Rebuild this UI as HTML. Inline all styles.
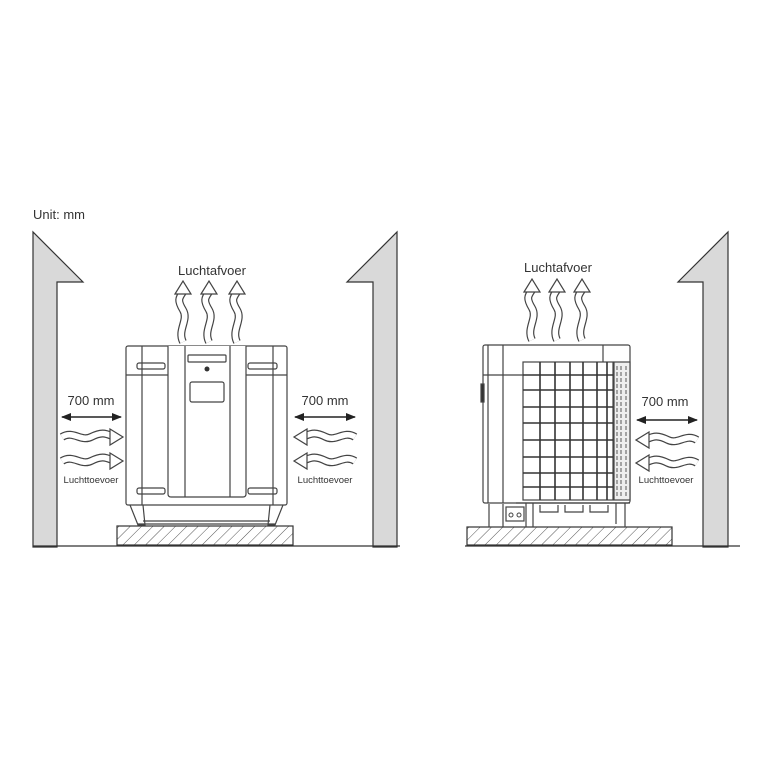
<!DOCTYPE html>
<html><head><meta charset="utf-8"><style>
html,body{margin:0;padding:0;background:#fff;}
svg{display:block;}
text{font-family:"Liberation Sans",sans-serif;fill:#333;}
</style></head><body>
<svg width="758" height="758" viewBox="0 0 758 758" xmlns="http://www.w3.org/2000/svg">
<defs>
<pattern id="hatch" width="8" height="8" patternUnits="userSpaceOnUse" patternTransform="rotate(45)">
<rect width="8" height="8" fill="#fff"/><line x1="0" y1="0" x2="0" y2="8" stroke="#555" stroke-width="1"/>
</pattern>
<g id="wr">
<path d="M1,0 C12,-7 20,5 30,0 S44,-4 51,-1" fill="none" stroke="#444" stroke-width="8"/>
<path d="M1,0 C12,-7 20,5 30,0 S44,-4 51,-1" fill="none" stroke="#fff" stroke-width="5.6"/>
<path d="M49,-8 L62,0 L49,8 Z" fill="#fff" stroke="#444" stroke-width="1.2"/>
</g>
<g id="wu">
<path d="M0,0 C-6,-12 6,-22 0,-32 S-4,-44 0,-50" fill="none" stroke="#444" stroke-width="8"/>
<path d="M0,0 C-6,-12 6,-22 0,-32 S-4,-44 0,-50" fill="none" stroke="#fff" stroke-width="5.6"/>
<path d="M-8,-48 L0,-61 L8,-48 Z" fill="#fff" stroke="#444" stroke-width="1.2"/>
</g>
<marker id="ah" markerWidth="10" markerHeight="8" refX="9" refY="4" orient="auto-start-reverse" markerUnits="userSpaceOnUse">
<path d="M0,0 L10,4 L0,8 Z" fill="#222"/></marker>
</defs>

<text x="33" y="219" font-size="13">Unit: mm</text>

<path d="M33,547 L33,232 L83,282 L57,282 L57,547 Z" fill="#d9d9d9" stroke="#333" stroke-width="1.2"/>
<path d="M397,547 L397,232 L347,282 L373,282 L373,547 Z" fill="#d9d9d9" stroke="#333" stroke-width="1.2"/>
<path d="M728,547 L728,232 L678,282 L703,282 L703,547 Z" fill="#d9d9d9" stroke="#333" stroke-width="1.2"/>
<line x1="33" y1="546" x2="400" y2="546" stroke="#333" stroke-width="1.2"/>
<line x1="465" y1="546" x2="740" y2="546" stroke="#333" stroke-width="1.2"/>

<rect x="117" y="526" width="176" height="19" fill="url(#hatch)" stroke="#333" stroke-width="1.2"/>
<rect x="467" y="527" width="205" height="18" fill="url(#hatch)" stroke="#333" stroke-width="1.2"/>

<g fill="none" stroke="#444" stroke-width="1.2">
<rect x="126" y="346" width="161" height="159" fill="#fff" rx="2"/>
<line x1="126" y1="375" x2="287" y2="375"/>
<line x1="142" y1="346" x2="142" y2="505"/>
<line x1="273" y1="346" x2="273" y2="505"/>
<path d="M168,346 L168,494 Q168,497 171,497 L243,497 Q246,497 246,494 L246,346" fill="#fff"/>
<line x1="185" y1="346" x2="185" y2="497"/>
<line x1="230" y1="346" x2="230" y2="497"/>
<rect x="137" y="363" width="28" height="6" rx="2"/>
<rect x="248" y="363" width="29" height="6" rx="2"/>
<rect x="188" y="355" width="38" height="7" rx="1"/>
<rect x="190" y="382" width="34" height="20" rx="2"/>
<rect x="137" y="488" width="28" height="6" rx="2"/>
<rect x="248" y="488" width="29" height="6" rx="2"/>
<path d="M130,505 L138,525 L145,525 L143,505"/>
<path d="M283,505 L275,525 L268,525 L270,505"/>
<line x1="138" y1="524" x2="275" y2="524"/>
<line x1="143" y1="521" x2="270" y2="521"/>
</g>
<circle cx="207" cy="369" r="2.5" fill="#333"/>

<g fill="none" stroke="#444" stroke-width="1.2">
<rect x="483" y="345" width="147" height="158" fill="#fff" rx="2"/>
<line x1="488" y1="345" x2="488" y2="503"/>
<line x1="503" y1="345" x2="503" y2="503"/>
<line x1="483" y1="375" x2="523" y2="375"/>
<line x1="603" y1="345" x2="603" y2="362"/>
<rect x="523" y="362" width="90" height="138"/>
<rect x="614" y="362" width="16" height="138" fill="#eee"/>
<path d="M489,504 L489,527 M503,504 L503,527 M526,503 L526,527 M533,503 L533,527 M625,503 L625,527 M616,503 L616,524"/>
<rect x="506" y="507" width="18" height="14"/>
<path d="M540,505 L540,512 L558,512 L558,505 M565,505 L565,512 L583,512 L583,505 M590,505 L590,512 L608,512 L608,505"/>
<path d="M516,503 L630,503"/>
<rect x="481" y="384" width="3" height="18" fill="#333"/>
</g>
<circle cx="511" cy="515" r="2" fill="none" stroke="#444"/>
<circle cx="519" cy="515" r="2" fill="none" stroke="#444"/>
<g stroke="#333" stroke-width="1.6">
<line x1="540" y1="362" x2="540" y2="500"/><line x1="555" y1="362" x2="555" y2="500"/>
<line x1="570" y1="362" x2="570" y2="500"/><line x1="583" y1="362" x2="583" y2="500"/>
<line x1="597" y1="362" x2="597" y2="500"/><line x1="607" y1="362" x2="607" y2="500"/>
<line x1="523" y1="375" x2="613" y2="375"/><line x1="523" y1="390" x2="613" y2="390"/>
<line x1="523" y1="407" x2="613" y2="407"/><line x1="523" y1="423" x2="613" y2="423"/>
<line x1="523" y1="440" x2="613" y2="440"/><line x1="523" y1="457" x2="613" y2="457"/>
<line x1="523" y1="473" x2="613" y2="473"/><line x1="523" y1="487" x2="613" y2="487"/>
</g>
<g stroke="#555" stroke-width="1" fill="none">
<path d="M617,366 L617,496 M621,366 L621,496 M626,366 L626,496" stroke-dasharray="4,2"/>
</g>

<text x="212" y="275" font-size="13" text-anchor="middle">Luchtafvoer</text>
<use href="#wu" x="183" y="342"/><use href="#wu" x="209" y="342"/><use href="#wu" x="237" y="342"/>
<text x="91" y="405" font-size="13" text-anchor="middle">700 mm</text>
<line x1="62" y1="417" x2="121" y2="417" stroke="#222" stroke-width="1.6" marker-start="url(#ah)" marker-end="url(#ah)"/>
<use href="#wr" x="61" y="437"/><use href="#wr" x="61" y="461"/>
<text x="91" y="483" font-size="9.5" text-anchor="middle">Luchttoevoer</text>

<text x="325" y="405" font-size="13" text-anchor="middle">700 mm</text>
<line x1="295" y1="417" x2="355" y2="417" stroke="#222" stroke-width="1.6" marker-start="url(#ah)" marker-end="url(#ah)"/>
<use href="#wr" transform="translate(356,437) scale(-1,1)"/><use href="#wr" transform="translate(356,461) scale(-1,1)"/>
<text x="325" y="483" font-size="9.5" text-anchor="middle">Luchttoevoer</text>

<text x="558" y="272" font-size="13" text-anchor="middle">Luchtafvoer</text>
<use href="#wu" x="532" y="340"/><use href="#wu" x="557" y="340"/><use href="#wu" x="582" y="340"/>
<text x="665" y="406" font-size="13" text-anchor="middle">700 mm</text>
<line x1="637" y1="420" x2="697" y2="420" stroke="#222" stroke-width="1.6" marker-start="url(#ah)" marker-end="url(#ah)"/>
<use href="#wr" transform="translate(698,440) scale(-1,1)"/><use href="#wr" transform="translate(698,463) scale(-1,1)"/>
<text x="666" y="483" font-size="9.5" text-anchor="middle">Luchttoevoer</text>
</svg>
</body></html>
